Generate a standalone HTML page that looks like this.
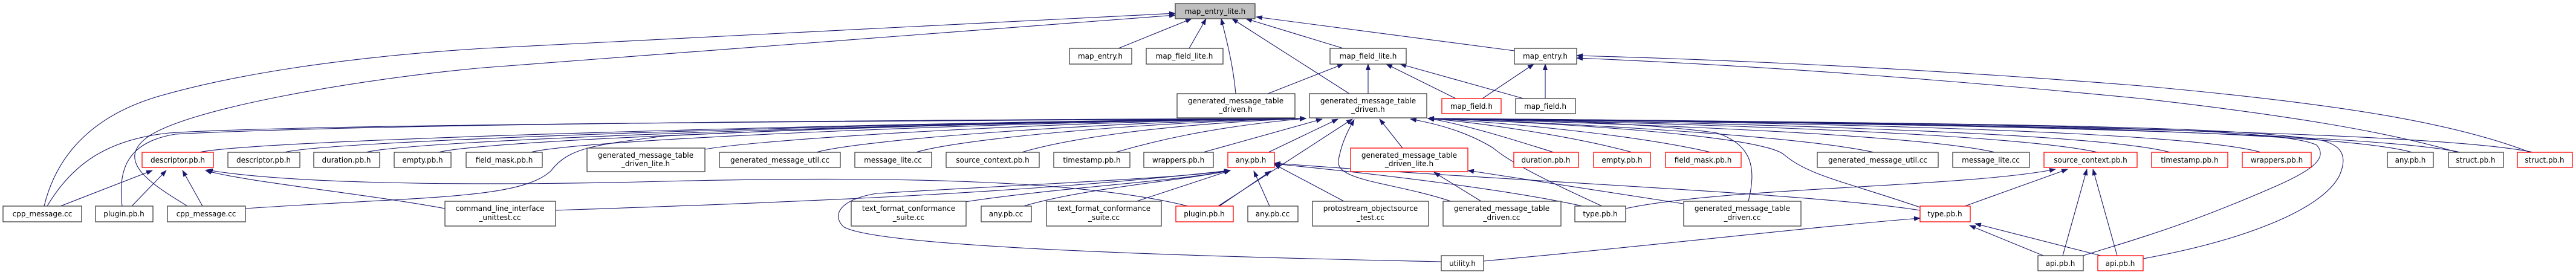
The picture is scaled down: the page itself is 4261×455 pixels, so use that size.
<!DOCTYPE html>
<html><head><meta charset="utf-8"><style>
html,body{margin:0;padding:0;background:#fff;}
svg{display:block;}
text{font-family:"DejaVu Sans","Liberation Sans",sans-serif;font-size:12px;fill:#000;}
.e{fill:none;stroke:#191970;stroke-width:1.1;marker-end:url(#a);}
.n{fill:#fff;stroke:#404040;stroke-width:1.3;}
.r{fill:#fff;stroke:#ff0000;stroke-width:1.3;}
</style></head><body>
<svg width="4261" height="455" viewBox="0 0 4261 455" xmlns="http://www.w3.org/2000/svg">
<defs><marker id="a" markerWidth="11" markerHeight="8" refX="10" refY="4" orient="auto" markerUnits="userSpaceOnUse"><path d="M0,0 L11,4 L0,8 z" fill="#191970"/></marker></defs>
<g>
<path class="e" d="M1850,80 L1971,31"/>
<path class="e" d="M1967,80 L1995,31"/>
<path class="e" d="M2044,155 C2040,110 2030,70 2020,31"/>
<path class="e" d="M2232,155 L2038,31"/>
<path class="e" d="M2222,80 L2061,31"/>
<path class="e" d="M2505,84 L2078,28"/>
<path class="e" d="M73,341 C95,250 160,190 260,160 C380,125 560,95 800,80 L1944,22"/>
<path class="e" d="M310,341 C260,310 190,270 240,230 C300,180 600,130 800,112 L1944,25"/>
<path class="e" d="M2097,155 L2222,106"/>
<path class="e" d="M2263,155 L2263,106"/>
<path class="e" d="M2408,163 L2293,106"/>
<path class="e" d="M2520,163 L2316,106"/>
<path class="e" d="M2452,163 L2537,106"/>
<path class="e" d="M2556,163 L2556,106"/>
<path class="e" d="M4065,252 C3950,218 3780,190 3541,163 C3200,130 2900,108 2608,96"/>
<path class="e" d="M4185,252 C4050,200 3850,170 3541,142 C3200,115 2900,100 2608,92"/>
<path class="e" d="M330,252 C430,228 1700,198 2160,196"/>
<path class="e" d="M470,252 C570,228 1700,198 2160,196"/>
<path class="e" d="M605,252 C700,228 1700,199 2160,196"/>
<path class="e" d="M725,252 C820,228 1700,199 2160,196"/>
<path class="e" d="M878,252 C960,230 1700,200 2160,196"/>
<path class="e" d="M1166,247 C1260,230 1750,200 2160,196"/>
<path class="e" d="M1350,252 C1420,232 1800,202 2160,196"/>
<path class="e" d="M1515,252 C1580,232 1850,204 2160,196"/>
<path class="e" d="M1690,252 C1750,234 1900,206 2160,196"/>
<path class="e" d="M1845,252 C1900,236 2000,210 2160,196"/>
<path class="e" d="M78,341 C120,270 180,230 280,220 C500,205 1500,200 2160,196"/>
<path class="e" d="M202,341 C195,280 210,235 290,222 C600,205 1500,198 2160,196"/>
<path class="e" d="M406,345 C700,325 860,330 911,283 C940,245 980,240 1100,225 C1500,205 1900,198 2160,196"/>
<path class="e" d="M1990,252 L2187,197"/>
<path class="e" d="M2098,252 L2213,197"/>
<path class="e" d="M2015,341 L2237,197"/>
<path class="e" d="M2400,333 C2300,300 2200,300 2215,260 C2220,235 2230,215 2240,198"/>
<path class="e" d="M2320,245 L2282,197"/>
<path class="e" d="M2650,341 C2560,300 2500,270 2470,245 C2430,220 2380,205 2333,197"/>
<path class="e" d="M2570,252 C2500,230 2420,205 2362,196"/>
<path class="e" d="M2700,252 C2600,225 2450,203 2362,196"/>
<path class="e" d="M2830,252 C2700,222 2480,202 2362,196"/>
<path class="e" d="M3100,252 C2950,220 2500,200 2362,196"/>
<path class="e" d="M3300,252 C3150,218 2550,200 2362,196"/>
<path class="e" d="M3470,252 C3300,215 2600,200 2362,196"/>
<path class="e" d="M3590,252 C3450,215 2700,200 2362,196"/>
<path class="e" d="M3740,252 C3600,212 2800,200 2362,196"/>
<path class="e" d="M3990,252 C3850,212 3000,200 2362,196"/>
<path class="e" d="M4070,252 C3900,215 3000,202 2362,196"/>
<path class="e" d="M4190,252 C4000,212 3000,203 2362,196"/>
<path class="e" d="M2892,333 C2905,280 2900,240 2840,220 C2700,200 2450,196 2362,196"/>
<path class="e" d="M3176,343 C3050,300 2990,290 2950,255 C2900,220 2500,200 2362,196"/>
<path class="e" d="M3446,423 C3500,405 3600,380 3760,310 C3830,280 3850,260 3832,240 C3780,215 3500,205 2362,196"/>
<path class="e" d="M3545,428 C3700,400 3840,350 3870,290 C3885,255 3870,240 3840,232 C3700,212 3500,205 2362,196"/>
<path class="e" d="M100,341 L252,282"/>
<path class="e" d="M218,341 L275,282"/>
<path class="e" d="M335,341 L302,282"/>
<path class="e" d="M736,345 C600,320 400,300 340,282"/>
<path class="e" d="M1965,341 C1800,300 1500,290 1100,300 C700,310 450,300 342,281"/>
<path class="e" d="M919,348 C1300,335 1700,320 2035,282"/>
<path class="e" d="M1590,335 C1750,310 1950,300 2035,282"/>
<path class="e" d="M1693,341 C1800,310 1950,300 2035,282"/>
<path class="e" d="M1880,333 L2035,282"/>
<path class="e" d="M2017,341 L2102,283"/>
<path class="e" d="M2100,341 L2074,283"/>
<path class="e" d="M2223,333 L2108,272"/>
<path class="e" d="M2384,433 C2000,425 1450,410 1395,375 C1375,355 1390,330 1450,320 C1700,305 1950,295 2035,282"/>
<path class="e" d="M2618,341 C2500,315 2300,290 2108,271"/>
<path class="e" d="M3176,348 C3000,320 2500,300 2108,270"/>
<path class="e" d="M2450,333 L2372,285"/>
<path class="e" d="M2784,337 L2428,282"/>
<path class="e" d="M2689,345 C2850,310 3250,310 3400,280"/>
<path class="e" d="M3250,341 L3420,280"/>
<path class="e" d="M3412,423 L3452,280"/>
<path class="e" d="M3502,423 L3462,280"/>
<path class="e" d="M3380,423 L3258,373"/>
<path class="e" d="M3475,423 L3267,370"/>
<path class="e" d="M2454,432 C2700,410 3000,375 3176,361"/>
</g>
<g>
<rect x="1944" y="6" width="132" height="25" fill="#bfbfbf" stroke="#404040" stroke-width="1.3"/><text x="2010" y="23" text-anchor="middle">map_entry_lite.h</text>
<rect class="n" x="1769" y="80" width="103" height="26"/><text x="1820" y="97" text-anchor="middle">map_entry.h</text>
<rect class="n" x="1896" y="80" width="127" height="26"/><text x="1959" y="97" text-anchor="middle">map_field_lite.h</text>
<rect class="n" x="2200" y="80" width="126" height="26"/><text x="2263" y="97" text-anchor="middle">map_field_lite.h</text>
<rect class="n" x="2505" y="80" width="103" height="26"/><text x="2556" y="97" text-anchor="middle">map_entry.h</text>
<rect class="n" x="1947" y="155" width="195" height="40"/><text x="2044" y="171" text-anchor="middle">generated_message_table</text><text x="2044" y="185" text-anchor="middle">_driven.h</text>
<rect class="n" x="2166" y="155" width="194" height="40"/><text x="2263" y="171" text-anchor="middle">generated_message_table</text><text x="2263" y="185" text-anchor="middle">_driven.h</text>
<rect class="r" x="2385" y="163" width="98" height="25"/><text x="2434" y="180" text-anchor="middle">map_field.h</text>
<rect class="n" x="2507" y="163" width="99" height="25"/><text x="2556" y="180" text-anchor="middle">map_field.h</text>

<rect class="r" x="235" y="252" width="118" height="25"/><text x="294" y="269" text-anchor="middle">descriptor.pb.h</text>
<rect class="n" x="377" y="252" width="119" height="25"/><text x="436" y="269" text-anchor="middle">descriptor.pb.h</text>
<rect class="n" x="519" y="252" width="109" height="25"/><text x="573" y="269" text-anchor="middle">duration.pb.h</text>
<rect class="n" x="652" y="252" width="94" height="25"/><text x="699" y="269" text-anchor="middle">empty.pb.h</text>
<rect class="n" x="771" y="252" width="126" height="25"/><text x="834" y="269" text-anchor="middle">field_mask.pb.h</text>
<rect class="n" x="971" y="245" width="195" height="39"/><text x="1068" y="261" text-anchor="middle">generated_message_table</text><text x="1068" y="275" text-anchor="middle">_driven_lite.h</text>
<rect class="n" x="1190" y="252" width="200" height="25"/><text x="1290" y="269" text-anchor="middle">generated_message_util.cc</text>
<rect class="n" x="1414" y="252" width="127" height="25"/><text x="1477" y="269" text-anchor="middle">message_lite.cc</text>
<rect class="n" x="1565" y="252" width="154" height="25"/><text x="1642" y="269" text-anchor="middle">source_context.pb.h</text>
<rect class="n" x="1743" y="252" width="126" height="25"/><text x="1806" y="269" text-anchor="middle">timestamp.pb.h</text>
<rect class="n" x="1892" y="252" width="115" height="25"/><text x="1949" y="269" text-anchor="middle">wrappers.pb.h</text>
<rect class="r" x="2031" y="252" width="77" height="25"/><text x="2069" y="269" text-anchor="middle">any.pb.h</text>
<rect class="r" x="2234" y="245" width="194" height="39"/><text x="2331" y="261" text-anchor="middle">generated_message_table</text><text x="2331" y="275" text-anchor="middle">_driven_lite.h</text>
<rect class="r" x="2504" y="252" width="107" height="25"/><text x="2557" y="269" text-anchor="middle">duration.pb.h</text>
<rect class="r" x="2636" y="252" width="94" height="25"/><text x="2683" y="269" text-anchor="middle">empty.pb.h</text>
<rect class="r" x="2755" y="252" width="125" height="25"/><text x="2817" y="269" text-anchor="middle">field_mask.pb.h</text>
<rect class="n" x="3006" y="252" width="200" height="25"/><text x="3106" y="269" text-anchor="middle">generated_message_util.cc</text>
<rect class="n" x="3230" y="252" width="127" height="25"/><text x="3293" y="269" text-anchor="middle">message_lite.cc</text>
<rect class="r" x="3381" y="252" width="154" height="25"/><text x="3458" y="269" text-anchor="middle">source_context.pb.h</text>
<rect class="r" x="3559" y="252" width="126" height="25"/><text x="3622" y="269" text-anchor="middle">timestamp.pb.h</text>
<rect class="r" x="3709" y="252" width="114" height="25"/><text x="3766" y="269" text-anchor="middle">wrappers.pb.h</text>
<rect class="n" x="3949" y="252" width="76" height="25"/><text x="3987" y="269" text-anchor="middle">any.pb.h</text>
<rect class="n" x="4050" y="252" width="91" height="25"/><text x="4095" y="269" text-anchor="middle">struct.pb.h</text>
<rect class="r" x="4164" y="252" width="91" height="25"/><text x="4209" y="269" text-anchor="middle">struct.pb.h</text>

<rect class="n" x="5" y="341" width="130" height="26"/><text x="70" y="358" text-anchor="middle">cpp_message.cc</text>
<rect class="n" x="158" y="341" width="95" height="26"/><text x="205" y="358" text-anchor="middle">plugin.pb.h</text>
<rect class="n" x="277" y="341" width="129" height="26"/><text x="341" y="358" text-anchor="middle">cpp_message.cc</text>
<rect class="n" x="736" y="333" width="183" height="41"/><text x="827" y="349" text-anchor="middle">command_line_interface</text><text x="827" y="364" text-anchor="middle">_unittest.cc</text>
<rect class="n" x="1408" y="333" width="190" height="41"/><text x="1503" y="349" text-anchor="middle">text_format_conformance</text><text x="1503" y="364" text-anchor="middle">_suite.cc</text>
<rect class="n" x="1623" y="341" width="83" height="26"/><text x="1664" y="358" text-anchor="middle">any.pb.cc</text>
<rect class="n" x="1731" y="333" width="190" height="41"/><text x="1826" y="349" text-anchor="middle">text_format_conformance</text><text x="1826" y="364" text-anchor="middle">_suite.cc</text>
<rect class="r" x="1945" y="341" width="95" height="26"/><text x="1992" y="358" text-anchor="middle">plugin.pb.h</text>
<rect class="n" x="2064" y="341" width="83" height="26"/><text x="2105" y="358" text-anchor="middle">any.pb.cc</text>
<rect class="n" x="2171" y="333" width="192" height="41"/><text x="2267" y="349" text-anchor="middle">protostream_objectsource</text><text x="2267" y="364" text-anchor="middle">_test.cc</text>
<rect class="n" x="2387" y="333" width="195" height="41"/><text x="2484" y="349" text-anchor="middle">generated_message_table</text><text x="2484" y="364" text-anchor="middle">_driven.cc</text>
<rect class="n" x="2605" y="341" width="84" height="26"/><text x="2647" y="358" text-anchor="middle">type.pb.h</text>
<rect class="n" x="2785" y="333" width="194" height="41"/><text x="2882" y="349" text-anchor="middle">generated_message_table</text><text x="2882" y="364" text-anchor="middle">_driven.cc</text>
<rect class="r" x="3176" y="341" width="83" height="26"/><text x="3217" y="358" text-anchor="middle">type.pb.h</text>

<rect class="n" x="2384" y="423" width="70" height="25"/><text x="2419" y="440" text-anchor="middle">utility.h</text>
<rect class="n" x="3371" y="423" width="75" height="25"/><text x="3408" y="440" text-anchor="middle">api.pb.h</text>
<rect class="r" x="3470" y="423" width="75" height="25"/><text x="3507" y="440" text-anchor="middle">api.pb.h</text>
</g>
</svg>
</body></html>
